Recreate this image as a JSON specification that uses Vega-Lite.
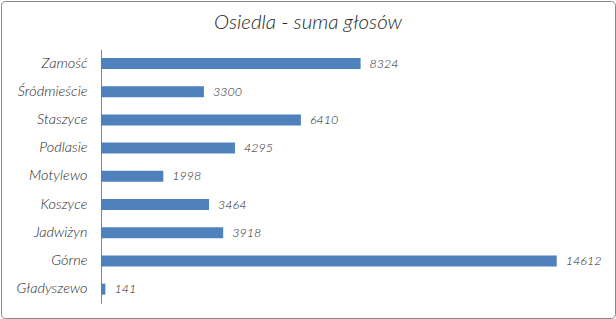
{
  "$schema": "https://vega.github.io/schema/vega-lite/v6.json",
  "width": 616,
  "height": 319,
  "autosize": {"type": "fit", "contains": "padding"},
  "padding": 1,
  "background": "white",
  "title": {
    "text": "Osiedla - suma głosów",
    "font": "Lato",
    "fontSize": 20.5,
    "fontStyle": "italic",
    "fontWeight": 300,
    "color": "#262626",
    "anchor": "middle",
    "offset": -32
  },
  "data": {
    "values": [
      {"osiedle": "Zamość", "glosy": 8324},
      {"osiedle": "Śródmieście", "glosy": 3300},
      {"osiedle": "Staszyce", "glosy": 6410},
      {"osiedle": "Podlasie", "glosy": 4295},
      {"osiedle": "Motylewo", "glosy": 1998},
      {"osiedle": "Koszyce", "glosy": 3464},
      {"osiedle": "Jadwiżyn", "glosy": 3918},
      {"osiedle": "Górne\u00a0", "glosy": 14612},
      {"osiedle": "Gładyszewo", "glosy": 141}
    ]
  },
  "encoding": {
    "y": {
      "field": "osiedle",
      "type": "nominal",
      "sort": null,
      "scale": {"range": [48.4, 302.2], "paddingInner": 0.61, "paddingOuter": 0.305},
      "axis": {
        "orient": "left",
        "offset": -100,
        "title": null,
        "ticks": false,
        "grid": false,
        "labelPadding": 14,
        "labelFont": "Lato",
        "labelFontSize": 14.5,
        "labelFontStyle": "italic",
        "labelFontWeight": 300,
        "labelColor": "#262626",
        "domainColor": "#868686",
        "domainWidth": 1
      }
    },
    "x": {
      "field": "glosy",
      "type": "quantitative",
      "scale": {"domain": [0, 16000], "range": [100, 599]},
      "axis": null
    }
  },
  "layer": [
    {"mark": {"type": "bar", "color": "#4f81bd"}},
    {
      "mark": {
        "type": "text",
        "align": "left",
        "baseline": "middle",
        "dx": 9,
        "font": "Lato",
        "fontSize": 12.5,
        "fontStyle": "italic",
        "fontWeight": 300,
        "color": "#262626"
      },
      "encoding": {"text": {"field": "glosy", "type": "quantitative", "format": "d"}}
    }
  ],
  "config": {
    "view": {"stroke": "#868686", "strokeWidth": 1, "cornerRadius": 4},
    "font": "Lato"
  }
}
